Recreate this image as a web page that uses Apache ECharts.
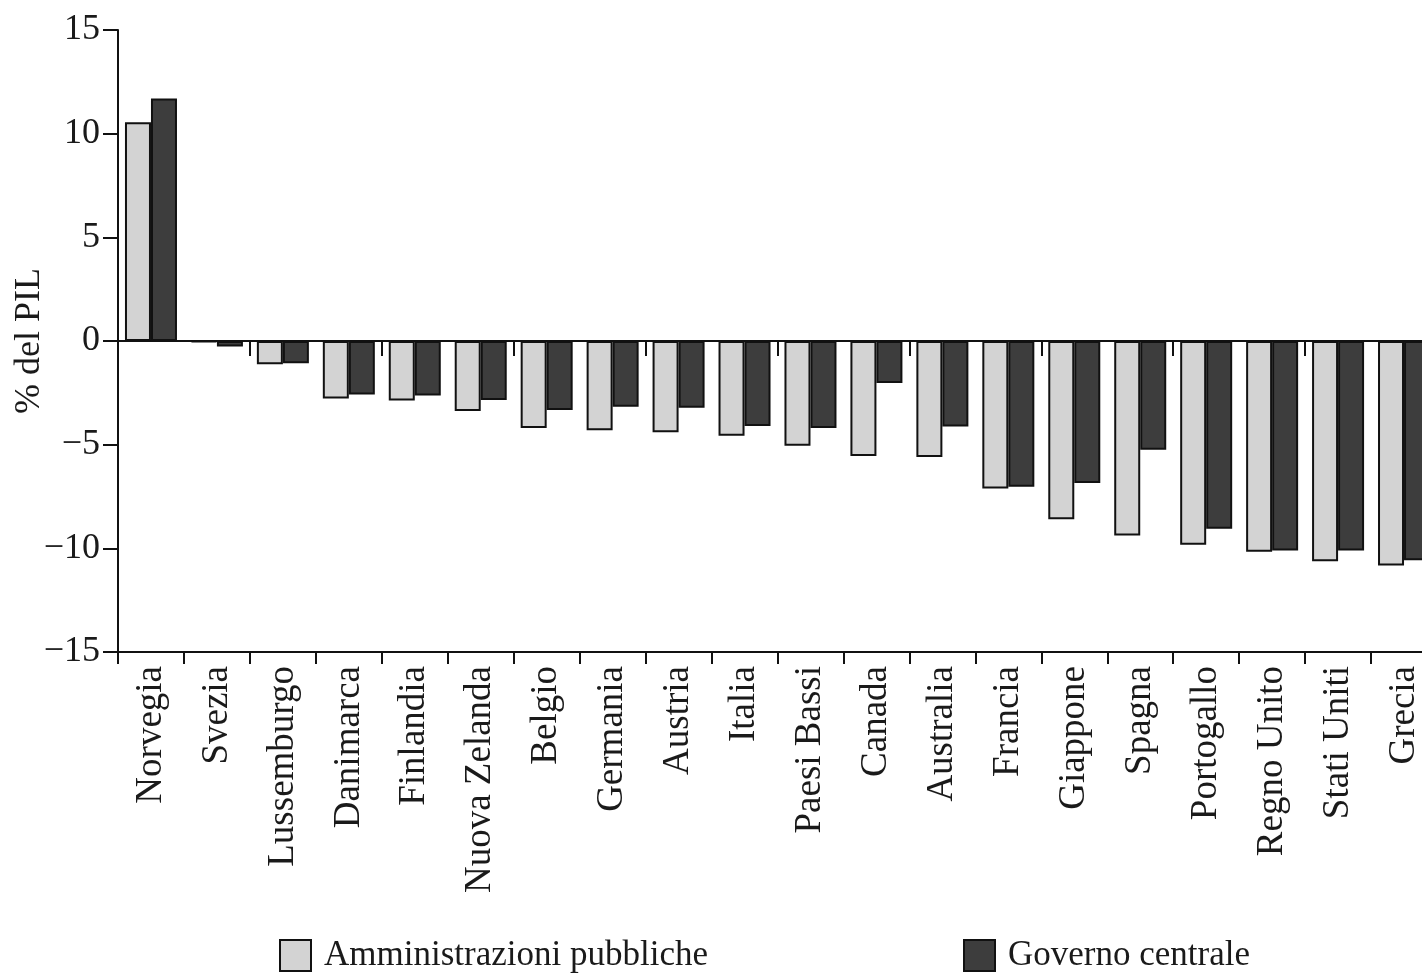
<!DOCTYPE html>
<html>
<head>
<meta charset="utf-8">
<script src="https://cdn.jsdelivr.net/npm/echarts@6/dist/echarts.min.js"></script>
<style>
html,body{margin:0;padding:0;background:#fff;}
#c{width:1422px;height:974px;}
</style>
</head>
<body>
<div id="c"></div>
<script>
const categories = ['Norvegia','Svezia','Lussemburgo','Danimarca','Finlandia','Nuova Zelanda','Belgio','Germania','Austria','Italia','Paesi Bassi','Canada','Australia','Francia','Giappone','Spagna','Portogallo','Regno Unito','Stati Uniti','Grecia'];
const amministrazioni = [10.55,-0.05,-1.12,-2.77,-2.87,-3.38,-4.2,-4.3,-4.4,-4.57,-5.05,-5.55,-5.6,-7.12,-8.6,-9.38,-9.83,-10.17,-10.62,-10.83];
const governo = [11.7,-0.26,-1.07,-2.58,-2.63,-2.85,-3.33,-3.17,-3.22,-4.1,-4.2,-2.02,-4.12,-7.03,-6.85,-5.25,-9.05,-10.1,-10.1,-10.57];
const yTicks = {min:-15, max:15, interval:5};
const legendNames = ['Amministrazioni pubbliche','Governo centrale'];

const FONT = '"Liberation Serif", "DejaVu Serif", serif';
const TXT = '#1a1a1a';
const chart = echarts.init(document.getElementById('c'), null, {renderer:'canvas'});
chart.setOption({
  animation:false,
  backgroundColor:'#ffffff',
  grid:{left:118, right:-15, top:30, bottom:322, containLabel:false, outerBoundsMode:'none'},
  legend:[
    {data:[legendNames[0]], left:279, top:938, padding:0, itemWidth:31, itemHeight:31, itemGap:10,
     textStyle:{fontFamily:FONT, fontSize:35, color:TXT, padding:[0,0,0,8]}, icon:'rect'},
    {data:[legendNames[1]], left:963, top:938, padding:0, itemWidth:31, itemHeight:31, itemGap:10,
     textStyle:{fontFamily:FONT, fontSize:35, color:TXT, padding:[0,0,0,8]}, icon:'rect'}
  ],
  xAxis:[
    {type:'category', data:categories, position:'bottom',
     axisLine:{onZero:false, lineStyle:{color:'#111', width:2}},
     axisTick:{show:true, inside:false, length:12, lineStyle:{color:'#111', width:2}},
     axisLabel:{rotate:90, margin:14, fontFamily:FONT, fontSize:37, color:TXT, interval:0},
     splitLine:{show:false}},
    {type:'category', data:categories, position:'top',
     axisLine:{onZero:true, lineStyle:{color:'#111', width:2}},
     axisTick:{show:true, inside:true, length:15, lineStyle:{color:'#111', width:2}},
     axisLabel:{show:false}, splitLine:{show:false}}
  ],
  yAxis:{type:'value', min:yTicks.min, max:yTicks.max, interval:yTicks.interval,
     name:'% del PIL', nameLocation:'middle', nameGap:70, nameMoveOverlap:false,
     nameTextStyle:{fontFamily:FONT, fontSize:36, color:TXT},
     axisLine:{show:true, lineStyle:{color:'#111', width:2}},
     axisTick:{show:true, length:15, lineStyle:{color:'#111', width:2}},
     axisLabel:{margin:18, fontFamily:FONT, fontSize:36, color:TXT,
       formatter:function(v){return v<0 ? '\u2212'+Math.abs(v) : String(v);}},
     splitLine:{show:false}},
  series:[
    {name:legendNames[0], type:'bar', xAxisIndex:0, data:amministrazioni, barWidth:26, barGap:'0%',
     itemStyle:{color:'#d3d3d3', borderColor:'#111', borderWidth:2}},
    {name:legendNames[1], type:'bar', xAxisIndex:0, data:governo, barWidth:26, barGap:'0%',
     itemStyle:{color:'#3d3d3d', borderColor:'#111', borderWidth:2}}
  ]
});
</script>
</body>
</html>
